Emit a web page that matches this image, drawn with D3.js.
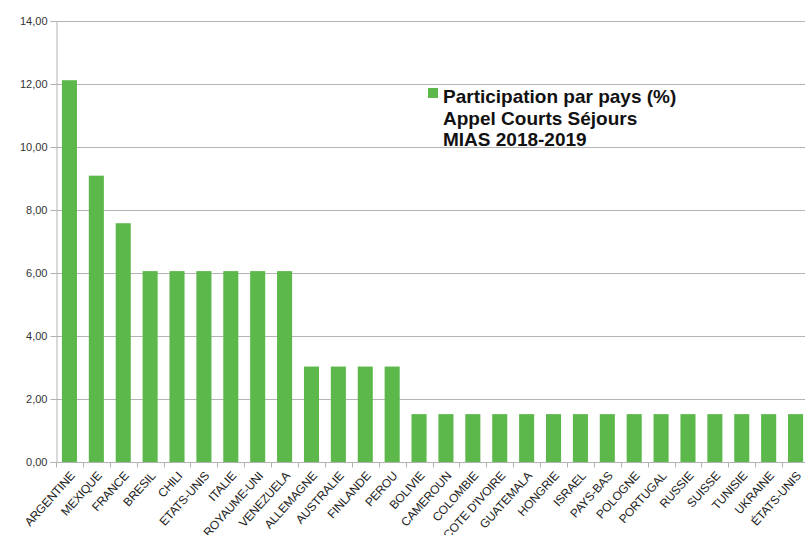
<!DOCTYPE html>
<html>
<head>
<meta charset="utf-8">
<script src="https://cdn.jsdelivr.net/npm/d3@7"></script>
<style>
  html, body { margin: 0; padding: 0; background: #fff; }
  svg { display: block; }
</style>
</head>
<body>
<svg id="chart" width="805" height="535"></svg>
<script>
// Countries and their share of participants (%)
const countries = [
  "ARGENTINE", "MEXIQUE", "FRANCE", "BRESIL", "CHILI", "ETATS-UNIS", "ITALIE",
  "ROYAUME-UNI", "VENEZUELA", "ALLEMAGNE", "AUSTRALIE", "FINLANDE", "PEROU",
  "BOLIVIE", "CAMEROUN", "COLOMBIE", "COTE D'IVOIRE", "GUATEMALA", "HONGRIE",
  "ISRAEL", "PAYS-BAS", "POLOGNE", "PORTUGAL", "RUSSIE", "SUISSE", "TUNISIE",
  "UKRAINE", "ÉTATS-UNIS"
];
const shares = [
  12.12, 9.09, 7.58, 6.06, 6.06, 6.06, 6.06,
  6.06, 6.06, 3.03, 3.03, 3.03, 3.03,
  1.52, 1.52, 1.52, 1.52, 1.52, 1.52,
  1.52, 1.52, 1.52, 1.52, 1.52, 1.52, 1.52,
  1.52, 1.52
];
const yTicks = [0, 2, 4, 6, 8, 10, 12, 14];
const legendLines = ["Participation par pays (%)", "Appel Courts Séjours", "MIAS 2018-2019"];

const barColor = "#5cb84b";
const gridColor = "#b3b3b3";
const textColor = "#333333";

const svg = d3.select("#chart");
const plot = { left: 56, right: 809, top: 21, bottom: 462 };

const x = d3.scaleBand()
  .domain(countries)
  .range([plot.left, plot.right])
  .paddingInner(0.44)
  .paddingOuter(0.22);

const y = d3.scaleLinear()
  .domain([0, 14])
  .range([plot.bottom, plot.top]);

const fmt = v => d3.format(".2f")(v).replace(".", ",");

// horizontal gridlines
svg.append("g")
  .selectAll("line")
  .data(yTicks)
  .join("line")
  .attr("x1", plot.left).attr("x2", 805)
  .attr("y1", d => y(d) + 0.5).attr("y2", d => y(d) + 0.5)
  .attr("stroke", gridColor).attr("stroke-width", 1);

// bars
svg.append("g")
  .selectAll("rect")
  .data(countries.map((c, i) => ({ c, v: shares[i] })))
  .join("rect")
  .attr("x", d => x(d.c))
  .attr("y", d => y(d.v))
  .attr("width", x.bandwidth())
  .attr("height", d => y(0) - y(d.v))
  .attr("fill", barColor);

// y axis
const yAxis = svg.append("g")
  .attr("transform", `translate(${plot.left + 0.5},0)`)
  .call(d3.axisLeft(y).tickValues(yTicks).tickFormat(fmt).tickSize(6).tickPadding(3));
yAxis.select(".domain").attr("stroke", gridColor);
yAxis.selectAll(".tick line").attr("stroke", gridColor);
yAxis.selectAll("text")
  .attr("fill", textColor)
  .style("font-family", "'Liberation Sans', Arial, sans-serif")
  .style("font-size", "11px");

// x axis with category boundary ticks
const xAxisG = svg.append("g")
  .attr("transform", `translate(0,${plot.bottom + 0.5})`);
xAxisG.append("line")
  .attr("x1", plot.left).attr("x2", 805)
  .attr("stroke", gridColor);
const step = x.step();
const bounds = countries.map((c, i) => x(c) - x.paddingInner() * step / 2);
xAxisG.selectAll("line.tk")
  .data(bounds)
  .join("line")
  .attr("class", "tk")
  .attr("x1", d => Math.round(d) + 0.5).attr("x2", d => Math.round(d) + 0.5)
  .attr("y1", 0).attr("y2", 5)
  .attr("stroke", gridColor);

xAxisG.selectAll("text")
  .data(countries)
  .join("text")
  .attr("transform", d => `translate(${x(d) + x.bandwidth() / 2 + 3},${11}) rotate(-48)`)
  .attr("text-anchor", "end")
  .attr("dy", "0.35em")
  .attr("fill", "#222")
  .style("font-family", "'Liberation Sans', Arial, sans-serif")
  .style("font-size", "12px")
  .style("letter-spacing", "-0.2px")
  .text(d => d);

// legend
const legend = svg.append("g").attr("transform", "translate(428,88)");
legend.append("rect")
  .attr("width", 10).attr("height", 10)
  .attr("fill", barColor);
legend.selectAll("text")
  .data(legendLines)
  .join("text")
  .attr("x", 15)
  .attr("y", (d, i) => 15 + i * 21.5)
  .attr("fill", "#111")
  .style("font-family", "'Liberation Sans', Arial, sans-serif")
  .style("font-weight", "bold")
  .style("font-size", "19px")
  .text(d => d);
</script>
</body>
</html>
